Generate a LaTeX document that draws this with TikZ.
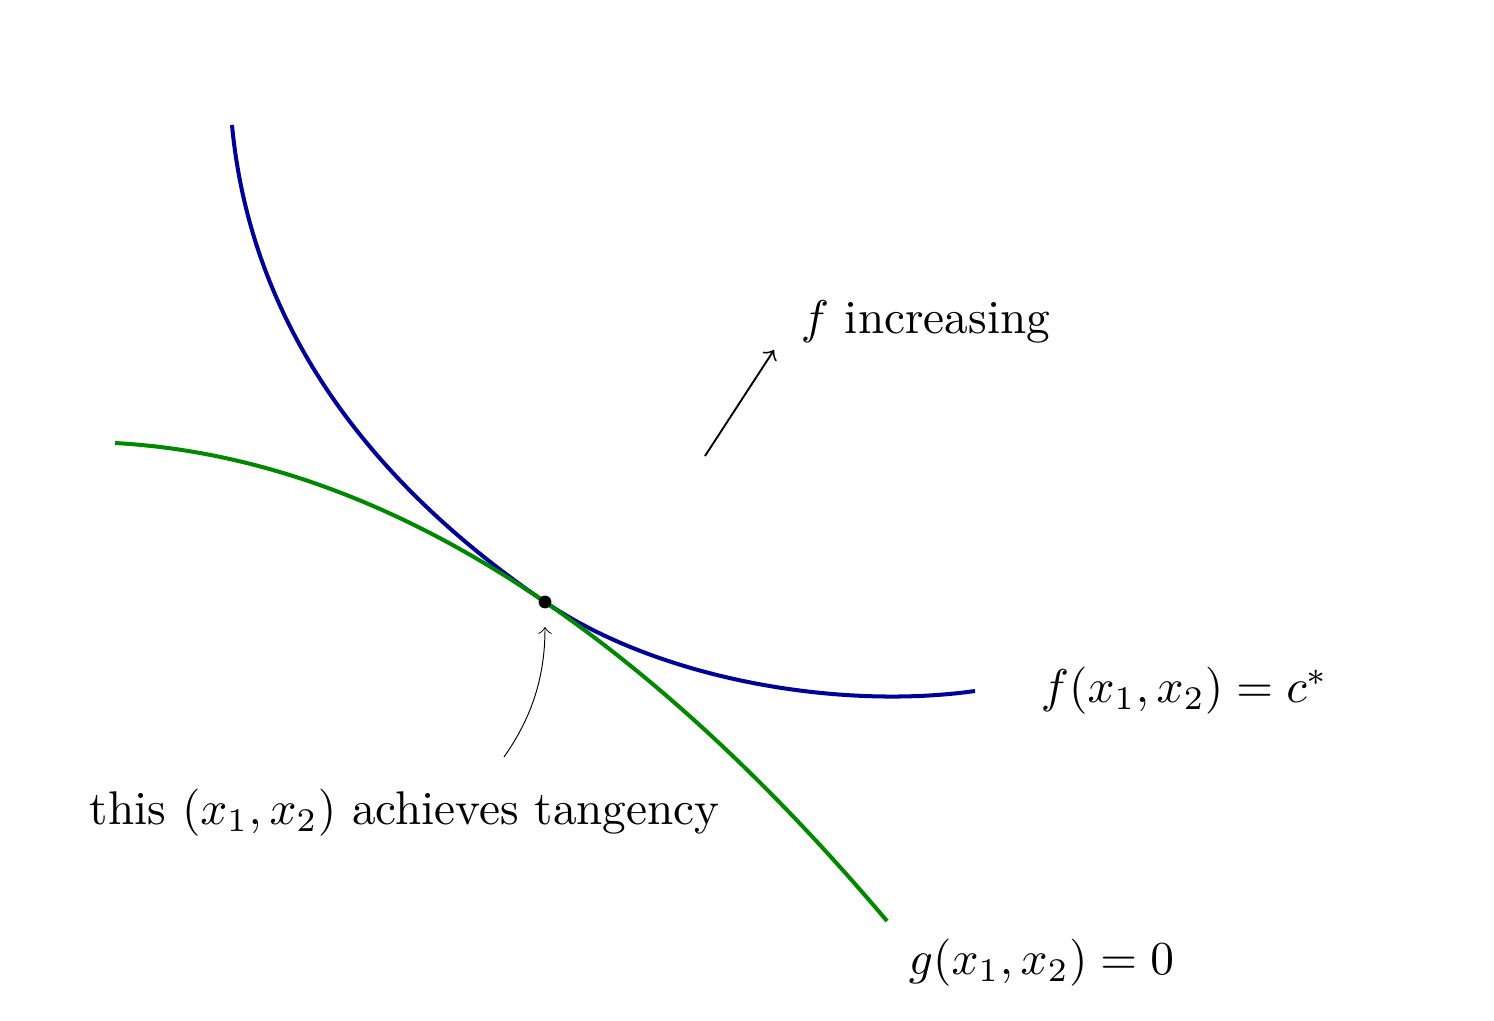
\documentclass[tikz,border=0pt]{standalone}
\usetikzlibrary{arrows}
\definecolor{levelblue}{RGB}{0,0,150}
\definecolor{constrgreen}{RGB}{0,136,0}
\tikzset{
	curve/.style={line width=0.85pt},
	lbl/.style={anchor=west,inner sep=0pt},
}
\begin{document}
\begin{tikzpicture}[x=0.2116pt,y=0.2116pt,yscale=-1,xscale=1]
				\useasboundingbox (0,0) rectangle (1494,1021);
				\coordinate (tan) at (545,602);
				\coordinate (tanlow) at (545,627);
				\coordinate (tail) at (504,757);
				\coordinate (arrS) at (705,456);
				\coordinate (arrE) at (774,350);
				% level curve of f
				\draw [curve,levelblue]  (232,125) .. controls (255,370) and (425,520) .. (tan) .. controls (660,680) and (840,710) .. (975,691) ;
				% constraint curve g
				\draw [curve,constrgreen]  (115,443) .. controls (258.3,451) and (401.7,503.9) .. (tan) .. controls (659,679.9) and (773,786.2) .. (887,921) ;
				\fill (tan) circle (1.35pt) ;
				\draw [->,>=to]  (arrS) -- (arrE) ;
				\draw [->,>=to,very thin]  (tail) .. controls (530,720) and (545,680) .. (tanlow) ;
				\node (inc) [lbl,anchor=base west] at (800,333) {$f$ increasing};
				\node (flab) [lbl] at (1040,691) {$f(x_1,x_2) = c^*$};
				\node (glab) [lbl] at (908,963) {$g(x_1,x_2) = 0$};
				\node (tlab) [lbl] at (89,813) {this $(x_1,x_2)$ achieves tangency};
\end{tikzpicture}
\end{document}
